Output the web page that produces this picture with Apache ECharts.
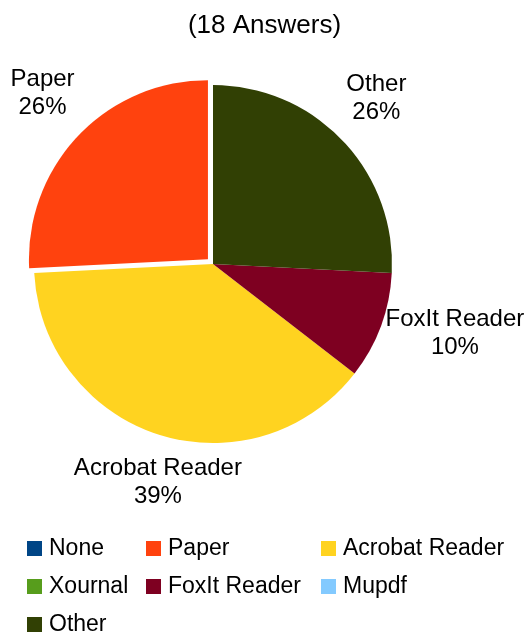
<!DOCTYPE html>
<html>
<head>
<meta charset="utf-8">
<script src="https://cdn.jsdelivr.net/npm/echarts@6/dist/echarts.min.js"></script>
<style>
  html, body { margin: 0; padding: 0; background: #ffffff; }
  #chart { width: 529px; height: 633px; }
</style>
</head>
<body>
<div id="chart"></div>
<script>
const categories = ['None', 'Paper', 'Acrobat Reader', 'Xournal', 'FoxIt Reader', 'Mupdf', 'Other'];
const answers = [0, 8, 12, 0, 3, 0, 8];
const colors = ['#004586', '#ff420e', '#ffd320', '#579d1c', '#7e0021', '#83caff', '#314004'];
const explodedSlice = 'Paper';

const FONT = 'Liberation Sans, Arial, sans-serif';
const CENTER = [213, 264];
const RADIUS = 179;
const OFFSET = 7;
const START = 90;
// the original pie is slightly taller than wide, so labels sit a bit further out vertically
const LABEL_GAP_X = 5;
const LABEL_GAP_Y = 21;

const total = answers.reduce((a, b) => a + b, 0);

function midAngle(i) {
  let before = 0;
  for (let k = 0; k < i; k++) before += answers[k];
  return (START + ((before + answers[i] / 2) / total) * 360) * Math.PI / 180;
}

// libreoffice-ish label placement: a box corner/edge sits just outside the rim
function placeLabel(params) {
  const i = params.dataIndex;
  const a = midAngle(i);
  const ux = Math.cos(a);
  const uy = -Math.sin(a);
  let cx = CENTER[0];
  let cy = CENTER[1];
  if (categories[i] === explodedSlice) {
    cx += ux * OFFSET;
    cy += uy * OFFSET;
  }
  const w = params.labelRect.width;
  const h = params.labelRect.height;
  const sx = Math.abs(ux) < 0.5 ? 0 : Math.sign(ux);
  const sy = Math.abs(uy) < 0.5 ? 0 : Math.sign(uy);
  return {
    x: cx + ux * (RADIUS + LABEL_GAP_X) + sx * w / 2,
    y: cy + uy * (RADIUS + LABEL_GAP_Y) + sy * h / 2,
    align: 'center',
    verticalAlign: 'middle'
  };
}

const sliceData = categories.map((name, i) => ({
  name,
  value: answers[i],
  selected: name === explodedSlice,
  itemStyle: { color: colors[i] },
  select: { itemStyle: { color: colors[i] } }
}));

const labelData = categories.map((name, i) => ({
  name,
  value: answers[i],
  label: { show: answers[i] > 0 }
}));

function legendColumn(names, left) {
  return {
    orient: 'vertical',
    left,
    top: 537,
    height: 110,
    padding: 0,
    data: names,
    icon: 'rect',
    itemWidth: 15,
    itemHeight: 15,
    itemGap: 15,
    selectedMode: false,
    textStyle: {
      fontFamily: FONT,
      fontSize: 23,
      lineHeight: 23,
      color: '#000000',
      padding: [0, 0, 0, 2]
    }
  };
}

const chart = echarts.init(document.getElementById('chart'), null, { renderer: 'canvas' });
chart.setOption({
  backgroundColor: '#ffffff',
  animation: false,
  title: {
    text: '(18 Answers)',
    left: 'center',
    top: 8,
    textStyle: {
      fontFamily: FONT,
      fontSize: 26,
      fontWeight: 'normal',
      color: '#000000'
    }
  },
  legend: [
    legendColumn(['None', 'Xournal', 'Other'], 27),
    legendColumn(['Paper', 'FoxIt Reader'], 146),
    legendColumn(['Acrobat Reader', 'Mupdf'], 321)
  ],
  series: [
    {
      name: 'Answers',
      type: 'pie',
      center: CENTER,
      radius: RADIUS,
      startAngle: START,
      clockwise: false,
      selectedMode: 'single',
      selectedOffset: OFFSET,
      minAngle: 0,
      itemStyle: { borderWidth: 0 },
      emphasis: { disabled: true },
      label: { show: false },
      labelLine: { show: false },
      data: sliceData
    },
    {
      // same pie again, transparent, only to carry the outside labels
      name: 'Labels',
      type: 'pie',
      center: CENTER,
      radius: RADIUS,
      startAngle: START,
      clockwise: false,
      silent: true,
      selectedMode: false,
      avoidLabelOverlap: false,
      minAngle: 0,
      itemStyle: { color: 'rgba(0,0,0,0)', borderWidth: 0 },
      emphasis: { disabled: true },
      label: {
        show: true,
        position: 'outside',
        fontFamily: FONT,
        fontSize: 24,
        lineHeight: 28,
        color: '#000000',
        formatter: (p) => p.name + '\n' + Math.round(p.percent) + '%'
      },
      labelLine: { show: false },
      labelLayout: placeLabel,
      data: labelData
    }
  ]
});
</script>
</body>
</html>
